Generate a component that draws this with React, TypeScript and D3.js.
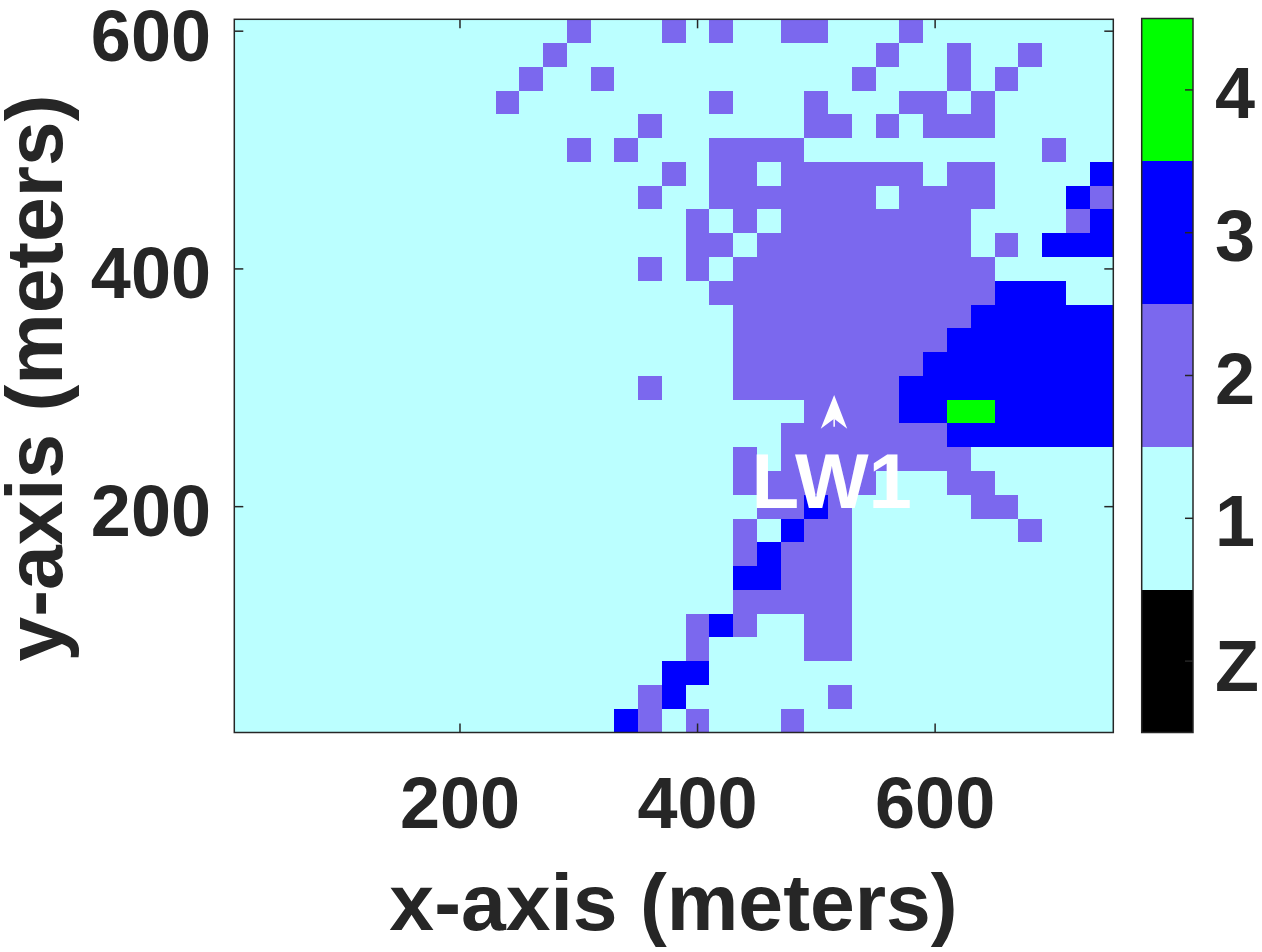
import React, { useEffect, useRef } from "react";
import * as d3 from "d3";

const LEVEL_2_COLS: string[] = [
  "14 18 20 23 24 28", "13 27 30 33", "12 15 26 30 32", "11 20 24 28 29 31", "17 24 25 27 29-31",
  "14 16 20-23 34", "18 20 21 23-28 30 31", "17 20-26 28-31 36", "19 21 23-30 35", "19 20 22-30 32",
  "17 19 21-31", "20-31", "21-30", "21-29", "21-28",
  "17 21-27", "24-27", "23-29", "21 23-30", "21-26 30 31",
  "22 23 25 31 32", "21 24 25 33", "21 23-25", "23-25", "21-25",
  "19 21 24 25", "19 24 25", "", "17 25", "17 19 23",
];
const LEVEL_3_COLS: string[] = [
  "", "", "", "", "",
  "", "36", "35", "36", "34-36",
  "", "32-34", "31-36", "30-36", "29-36",
  "28-36", "28 29 32-36", "30-36", "", "",
  "24", "23", "22", "21 22", "",
  "20", "", "18 19", "18", "16",
];
const LEVEL_4_COLS: string[] = [
  "", "", "", "", "", "", "", "", "", "",
  "", "", "", "", "", "", "30 31", "", "", "",
  "", "", "", "", "", "", "", "", "", "",
];
const COLORS = ["#000000", "#BBFFFF", "#7B68EE", "#0000FF", "#00FF00"];
const COLORBAR_LABELS = ["Z", "1", "2", "3", "4"];
const X_TICKS = [200, 400, 600];
const Y_TICKS = [200, 400, 600];
const CELL_M = 20;
const N_COLS = 37;
const N_ROWS = 30;
const ARROW = { tip: [515, 294], left: [503.7, 265.5], notch: [515, 274], right: [526, 265.5] };
const ANNOTATION = { label: "LW1", x: 513, y: 199 };

const INK = "#262626";
const FONT = "'Liberation Sans', Arial, sans-serif";

function parseCols(s: string): number[] {
  if (!s) return [];
  return s.split(" ").flatMap((p) => {
    const [a, b] = p.split("-").map(Number);
    return d3.range(a, (b ?? a) + 1);
  });
}

export default function App() {
  const ref = useRef<SVGSVGElement>(null);
  useEffect(() => {
    const svg = d3.select(ref.current!);
    svg.selectAll("*").remove();
    const L = 234.3, R = 1113.3, T = 19.3, B = 732.5;
    const x = d3.scaleLinear().domain([10, 750]).range([L, R]);
    const y = d3.scaleLinear().domain([10, 610]).range([B, T]);

    const cells: { c: number; r: number; v: number }[] = [];
    d3.range(N_ROWS).forEach((r) => {
      const row = new Array(N_COLS).fill(1);
      parseCols(LEVEL_2_COLS[r]).forEach((c) => (row[c] = 2));
      parseCols(LEVEL_3_COLS[r]).forEach((c) => (row[c] = 3));
      parseCols(LEVEL_4_COLS[r]).forEach((c) => (row[c] = 4));
      row.forEach((v, c) => cells.push({ c, r, v }));
    });

    svg.append("g").attr("shape-rendering", "crispEdges")
      .selectAll("rect").data(cells).join("rect")
      .attr("x", (d) => x(10 + d.c * CELL_M))
      .attr("width", (d) => x(10 + (d.c + 1) * CELL_M) - x(10 + d.c * CELL_M))
      .attr("y", (d) => y(610 - d.r * CELL_M))
      .attr("height", (d) => y(610 - (d.r + 1) * CELL_M) - y(610 - d.r * CELL_M))
      .attr("fill", (d) => COLORS[d.v]);

    const frame = svg.append("g").attr("stroke", INK).attr("stroke-width", 1.5).attr("fill", "none");
    frame.append("rect").attr("x", L).attr("y", T).attr("width", R - L).attr("height", B - T);
    const TL = 9;
    X_TICKS.forEach((t) => {
      frame.append("line").attr("x1", x(t)).attr("x2", x(t)).attr("y1", B).attr("y2", B - TL);
      frame.append("line").attr("x1", x(t)).attr("x2", x(t)).attr("y1", T).attr("y2", T + TL);
    });
    Y_TICKS.forEach((t) => {
      frame.append("line").attr("y1", y(t)).attr("y2", y(t)).attr("x1", L).attr("x2", L + TL);
      frame.append("line").attr("y1", y(t)).attr("y2", y(t)).attr("x1", R).attr("x2", R - TL);
    });

    const text = svg.append("g").attr("font-family", FONT).attr("font-weight", 700).attr("fill", INK);
    X_TICKS.forEach((t) => {
      text.append("text").attr("x", x(t)).attr("y", 828).attr("text-anchor", "middle").attr("font-size", 72).text(t);
    });
    Y_TICKS.forEach((t) => {
      text.append("text").attr("x", 211).attr("y", y(t) + 29.5).attr("text-anchor", "end").attr("font-size", 72).text(t);
    });
    text.append("text").attr("x", 673.5).attr("y", 930).attr("text-anchor", "middle").attr("font-size", 80.5).text("x-axis (meters)");
    text.append("text").attr("transform", "translate(62,378) rotate(-90)").attr("text-anchor", "middle").attr("font-size", 80.3).text("y-axis (meters)");

    const bar = d3.scaleLinear().domain([0, 5]).range([B, 18.5]);
    const cbG = svg.append("g");
    COLORS.forEach((col, i) => {
      cbG.append("rect").attr("x", 1141.7).attr("width", 51.3).attr("y", bar(i + 1)).attr("height", bar(i) - bar(i + 1))
        .attr("fill", col).attr("shape-rendering", "crispEdges");
      cbG.append("line").attr("x1", 1193).attr("x2", 1185).attr("y1", bar(i + 0.5)).attr("y2", bar(i + 0.5))
        .attr("stroke", INK).attr("stroke-width", 1.5);
      cbG.append("text").attr("x", 1215).attr("y", bar(i + 0.5) + (i === 0 ? 30 : 28)).attr("font-family", FONT).attr("font-weight", 700)
        .attr("font-size", 72).attr("fill", INK).text(COLORBAR_LABELS[i]);
    });
    cbG.append("rect").attr("x", 1141.7).attr("y", 18.5).attr("width", 51.3).attr("height", B - 18.5)
      .attr("fill", "none").attr("stroke", INK).attr("stroke-width", 1.5);

    const arrowPts = [ARROW.tip, ARROW.left, ARROW.notch, ARROW.right].map(([a, b]) => [x(a), y(b)] as [number, number]);
    svg.append("path").attr("d", d3.line()(arrowPts)! + "Z").attr("fill", "#fff");
    svg.append("line").attr("x1", x(ARROW.notch[0])).attr("x2", x(ARROW.notch[0]))
      .attr("y1", y(ARROW.notch[1])).attr("y2", y(ARROW.left[1]) - 2).attr("stroke", "#fff").attr("stroke-width", 1.5);
    svg.append("text").attr("x", x(ANNOTATION.x)).attr("y", y(ANNOTATION.y))
      .attr("text-anchor", "middle").attr("font-family", FONT).attr("font-weight", 700)
      .attr("font-size", 78).attr("fill", "#fff").text(ANNOTATION.label);
  }, []);
  return <svg ref={ref} width={1262} height={952} style={{ position: "absolute", left: 0, top: 0, display: "block" }} />;
}
